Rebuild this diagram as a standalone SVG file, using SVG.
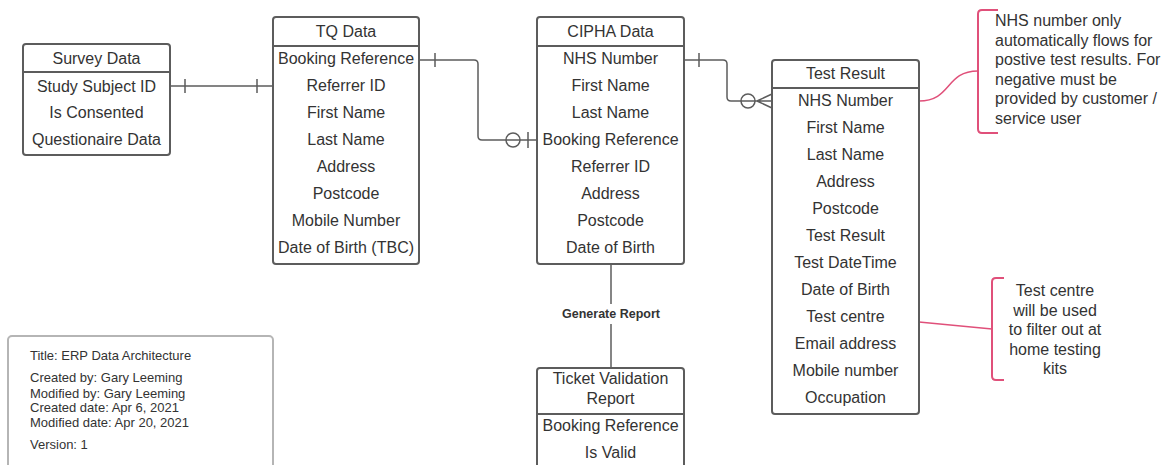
<svg xmlns="http://www.w3.org/2000/svg" width="1166" height="465" viewBox="0 0 1166 465">
<style>
.box{fill:#fff;stroke:#5c5c5c;stroke-width:2}
.div{stroke:#5c5c5c;stroke-width:2}
.t{font-family:"Liberation Sans",Arial,sans-serif;font-size:16px;fill:#333;text-anchor:middle}
.n{font-family:"Liberation Sans",Arial,sans-serif;font-size:16px;fill:#333}
.lg{font-family:"Liberation Sans",Arial,sans-serif;font-size:13px;fill:#333}
.c{fill:none;stroke:#5c5c5c;stroke-width:1.5}
.p{fill:none;stroke:#e0507a;stroke-width:2}
.pl{fill:none;stroke:#e0507a;stroke-width:1.5}
</style>
<rect width="1166" height="465" fill="#fff"/>
<g id="connectors">
<path class="c" d="M170,86 H273 M185,79 V93 M257,79 V93"/>
<path class="c" d="M419,60 H474 Q478,60 478,64 V136 Q478,140 482,140 H537 M435,53 V67 M528,132 V148"/>
<circle class="c" cx="513" cy="140" r="7" fill="#fff"/>
<path class="c" d="M684,60 H723 Q727,60 727,64 V97 Q727,101 731,101 H772 M699,53 V67 M757,101 L772,94 M757,101 L772,108"/>
<circle class="c" cx="748" cy="101" r="7" fill="#fff"/>
<path class="c" d="M611,264 V368"/>
<rect x="556" y="304" width="110" height="20" fill="#fff"/>
<text x="611" y="318" font-family="Liberation Sans, Arial, sans-serif" font-size="12.5" font-weight="bold" fill="#333" text-anchor="middle">Generate Report</text>
<path class="pl" d="M919,101 C952,101 945,71 978,71"/>
<path class="pl" d="M919,322 L992,329"/>
</g>
<g id="survey">
<rect class="box" x="23" y="44" width="147" height="111" rx="3"/>
<line class="div" x1="23" y1="72" x2="170" y2="72"/>
<text class="t" x="96.5" y="63.5">Survey Data</text>
<text class="t" x="96.5" y="91.5">Study Subject ID</text>
<text class="t" x="96.5" y="118">Is Consented</text>
<text class="t" x="96.5" y="145">Questionaire Data</text>
</g>
<g id="tq">
<rect class="box" x="273" y="17" width="146" height="247" rx="3"/>
<line class="div" x1="273" y1="46" x2="419" y2="46"/>
<text class="t" x="346" y="36.5">TQ Data</text>
<text class="t" x="346" y="63.5">Booking Reference</text>
<text class="t" x="346" y="90.5">Referrer ID</text>
<text class="t" x="346" y="117.5">First Name</text>
<text class="t" x="346" y="144.5">Last Name</text>
<text class="t" x="346" y="171.5">Address</text>
<text class="t" x="346" y="198.5">Postcode</text>
<text class="t" x="346" y="225.5">Mobile Number</text>
<text class="t" x="346" y="252.5">Date of Birth (TBC)</text>
</g>
<g id="cipha">
<rect class="box" x="537" y="17" width="147" height="247" rx="3"/>
<line class="div" x1="537" y1="46" x2="684" y2="46"/>
<text class="t" x="610.5" y="36.5">CIPHA Data</text>
<text class="t" x="610.5" y="63.5">NHS Number</text>
<text class="t" x="610.5" y="90.5">First Name</text>
<text class="t" x="610.5" y="117.5">Last Name</text>
<text class="t" x="610.5" y="144.5">Booking Reference</text>
<text class="t" x="610.5" y="171.5">Referrer ID</text>
<text class="t" x="610.5" y="198.5">Address</text>
<text class="t" x="610.5" y="225.5">Postcode</text>
<text class="t" x="610.5" y="252.5">Date of Birth</text>
</g>
<g id="testresult">
<rect class="box" x="772" y="60" width="147" height="354" rx="3"/>
<line class="div" x1="772" y1="88" x2="919" y2="88"/>
<text class="t" x="845.5" y="78.5">Test Result</text>
<text class="t" x="845.5" y="105.5">NHS Number</text>
<text class="t" x="845.5" y="132.5">First Name</text>
<text class="t" x="845.5" y="159.5">Last Name</text>
<text class="t" x="845.5" y="186.5">Address</text>
<text class="t" x="845.5" y="213.5">Postcode</text>
<text class="t" x="845.5" y="241">Test Result</text>
<text class="t" x="845.5" y="268">Test DateTime</text>
<text class="t" x="845.5" y="295">Date of Birth</text>
<text class="t" x="845.5" y="322">Test centre</text>
<text class="t" x="845.5" y="349">Email address</text>
<text class="t" x="845.5" y="376">Mobile number</text>
<text class="t" x="845.5" y="403">Occupation</text>
</g>
<g id="ticket">
<rect class="box" x="537" y="368" width="147" height="110" rx="3"/>
<line class="div" x1="537" y1="414" x2="684" y2="414"/>
<text class="t" x="610.5" y="384">Ticket Validation</text>
<text class="t" x="610.5" y="404">Report</text>
<text class="t" x="610.5" y="431">Booking Reference</text>
<text class="t" x="610.5" y="458">Is Valid</text>
</g>
<g id="note1">
<path class="p" d="M998,10 H982 Q978,10 978,14 V129 Q978,133 982,133 H998"/>
<text class="n" x="995" y="26">NHS number only</text>
<text class="n" x="995" y="45.5">automatically flows for</text>
<text class="n" x="995" y="65">postive test results. For</text>
<text class="n" x="995" y="84.5">negative must be</text>
<text class="n" x="995" y="104">provided by customer /</text>
<text class="n" x="995" y="123.5">service user</text>
</g>
<g id="note2">
<path class="p" d="M1004,278 H996 Q992,278 992,282 V376 Q992,380 996,380 H1004"/>
<text class="t" x="1055" y="296">Test centre</text>
<text class="t" x="1055" y="315.5">will be used</text>
<text class="t" x="1055" y="335">to filter out at</text>
<text class="t" x="1055" y="354.5">home testing</text>
<text class="t" x="1055" y="374">kits</text>
</g>
<g id="legend">
<rect x="8" y="336" width="265" height="140" rx="4" fill="#fff" stroke="#b5b5b5" stroke-width="2"/>
<text class="lg" x="30" y="360">Title: ERP Data Architecture</text>
<text class="lg" x="30" y="382">Created by: Gary Leeming</text>
<text class="lg" x="30" y="398">Modified by: Gary Leeming</text>
<text class="lg" x="30" y="412">Created date: Apr 6, 2021</text>
<text class="lg" x="30" y="427">Modified date: Apr 20, 2021</text>
<text class="lg" x="30" y="449">Version: 1</text>
</g>
</svg>
